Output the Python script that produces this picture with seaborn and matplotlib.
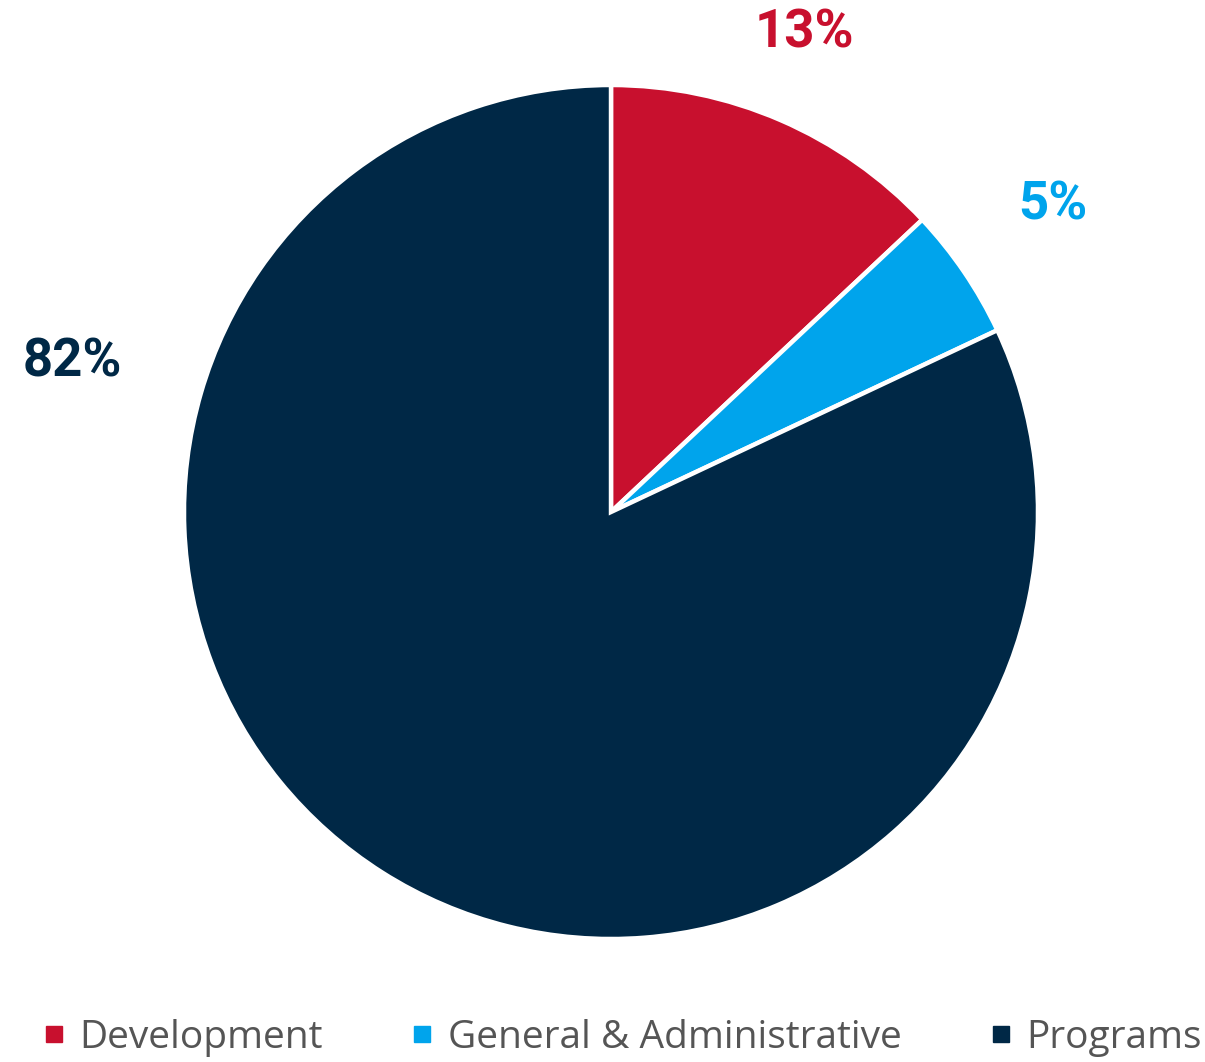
import numpy as np
import matplotlib
matplotlib.use("Agg")
import matplotlib.pyplot as plt
from matplotlib.lines import Line2D
import seaborn as sns

# ── Data ──────────────────────────────────────────────────────────────
categories = ["Development", "General & Administrative", "Programs"]
shares     = [13, 5, 82]
pct_labels = ["13%", "5%", "82%"]
colors     = ["#C8102E", "#00A4EC", "#002846"]

# label placement (angle in degrees, radius in pie units)
label_angle  = [68.0, 34.8, 164.4]
label_radius = [1.21, 1.26, 1.31]

sns.set_theme(style="white")
plt.rcParams["font.family"] = ["Roboto", "DejaVu Sans"]

fig = plt.figure(figsize=(12.05, 10.62), dpi=100)
ax = fig.add_axes([184/1205, 123/1062, 854/1205, 854/1062])

ax.pie(shares, colors=colors, startangle=90, counterclock=False,
       radius=1.0, wedgeprops=dict(edgecolor="white", linewidth=3.2))
ax.set_xlim(-1, 1)
ax.set_ylim(-1, 1)
ax.set_aspect("equal")

for txt, ang, r, c in zip(pct_labels, label_angle, label_radius, colors):
    a = np.deg2rad(ang)
    ax.text(r*np.cos(a), r*np.sin(a), txt, color=c, fontsize=38,
            fontweight="bold", ha="center", va="center",
            family=["Roboto", "DejaVu Sans"], clip_on=False)

# ── Legend ────────────────────────────────────────────────────────────
handles = [Line2D([0], [0], marker="s", linestyle="", markersize=11,
                  markerfacecolor=c, markeredgecolor=c) for c in colors]
fig.legend(handles, categories, loc="center", bbox_to_anchor=(0.517, 0.023),
           ncol=3, frameon=False, handlelength=0.5, handletextpad=0.4,
           columnspacing=2.3,
           prop=dict(family=["Open Sans", "DejaVu Sans"], size=28),
           labelcolor="#555555")

fig.savefig("out.png", dpi=100, facecolor="white")
